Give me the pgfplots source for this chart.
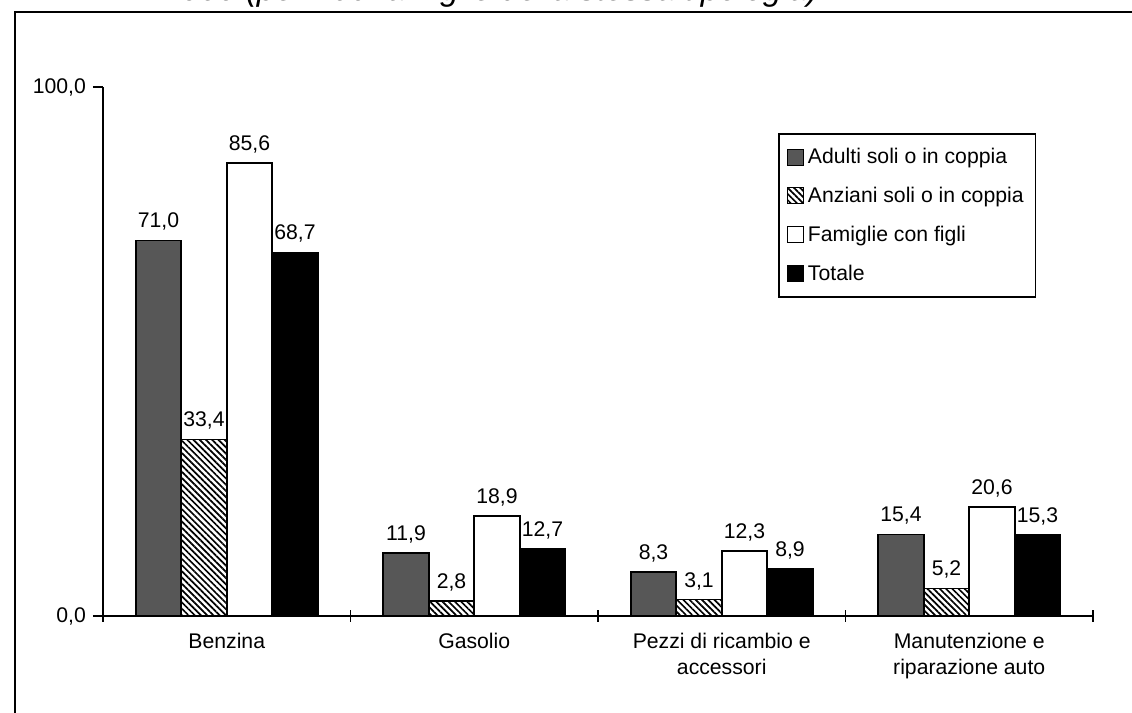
\documentclass[border=0pt]{standalone}
\usepackage{pgfplots}
\pgfplotsset{compat=1.18}
\usepackage{fontspec}
\setmainfont{Liberation Sans}
\usetikzlibrary{patterns.meta}

\begin{document}
\begin{tikzpicture}
\useasboundingbox (0,0) rectangle (566pt,356.5pt);
\clip (0,0) rectangle (566pt,356.5pt);
\draw[line width=1pt] (7.5pt,-10pt) rectangle (580pt,350.5pt);
\node[anchor=base west, inner sep=0pt, font=\fontsize{16.5}{19}\selectfont] at (81.5pt,356.3pt) {\textbf{\textit{2000}} \textit{(per 100 famiglie della stessa tipologia)}};
\begin{axis}[
  at={(51.5pt,48.5pt)}, anchor=south west,
  scale only axis, width=495pt, height=264.5pt,
  ybar=0pt, bar width=22.75pt,
  xmin=-0.5, xmax=3.5, ymin=0, ymax=100,
  clip=false,
  axis x line=bottom, axis y line=left,
  every outer x axis line/.append style={-},
  every outer y axis line/.append style={-},
  axis line style={-, line width=1pt},
  tick align=outside,
  xtick={0,1,2,3},
  xticklabels={Benzina, Gasolio, {Pezzi di ricambio e\\accessori}, {Manutenzione e\\riparazione auto}},
  xticklabel style={align=center},
  major x tick style={draw=none},
  minor xtick={-0.5,0.5,1.5,2.5,3.5},
  minor tick length=6pt,
  minor x tick style={yshift=3pt, line width=0.8pt, black},
  ytick={0,100},
  yticklabels={{0,0},{100,0}},
  major tick length=5pt,
  major y tick style={line width=1pt, black},
  ticklabel style={font=\fontsize{10.6}{13}\selectfont},
  nodes near coords={\pgfmathprintnumber[fixed,fixed zerofill,precision=1,use comma,assume math mode=true]{\pgfplotspointmeta}},
  nodes near coords style={font=\fontsize{10.6}{12}\selectfont, yshift=1.2pt},
  legend style={at={(0.682,0.913)}, anchor=north west, draw=black, line width=0.8pt,
    font=\fontsize{10.6}{12}\selectfont, row sep=6.3pt, inner xsep=4pt, inner ysep=5pt,
    /tikz/every even column/.append style={column sep=2pt}},
  legend cell align=left,
  legend image code/.code={\draw[#1, line width=0.5pt] (0pt,-4pt) rectangle (8pt,4pt);},
]
\addplot[fill=black!66, draw=black, line width=0.8pt] coordinates {(0,71.0) (1,11.9) (2,8.3) (3,15.4)};
\addplot[pattern={Lines[angle=-45,distance=2.2pt,line width=0.85pt]}, draw=black, line width=0.8pt] coordinates {(0,33.4) (1,2.8) (2,3.1) (3,5.2)};
\addplot[fill=white, draw=black, line width=0.8pt] coordinates {(0,85.6) (1,18.9) (2,12.3) (3,20.6)};
\addplot[fill=black, draw=black, line width=0.8pt] coordinates {(0,68.7) (1,12.7) (2,8.9) (3,15.3)};
\legend{Adulti soli o in coppia, Anziani soli o in coppia, Famiglie con figli, Totale}
\end{axis}
\end{tikzpicture}
\end{document}
